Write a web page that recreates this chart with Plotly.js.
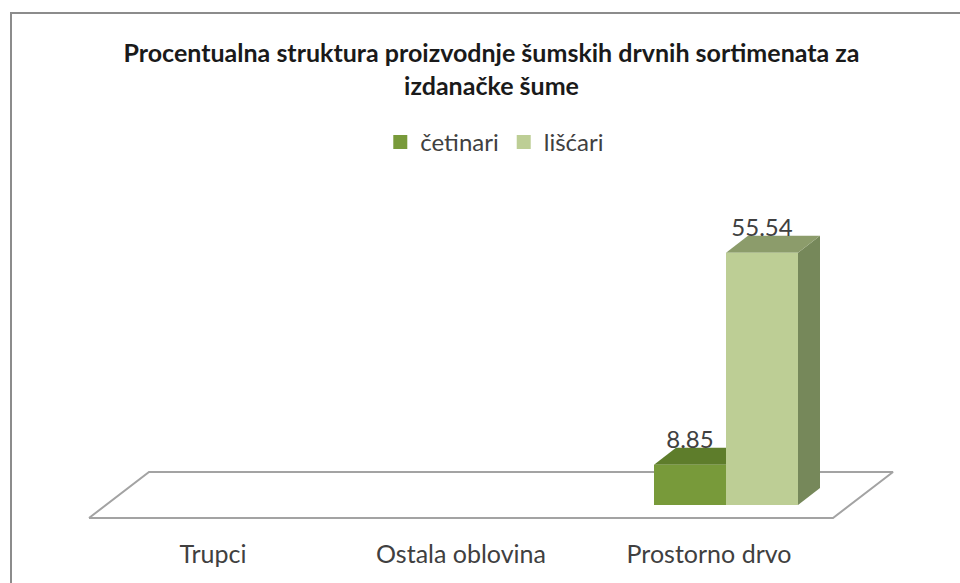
<!DOCTYPE html>
<html>
<head>
<meta charset="utf-8">
<script src="https://cdn.plot.ly/plotly-3.0.1.min.js"></script>
<style>
  html, body { margin: 0; padding: 0; background: #ffffff; }
  #chart { width: 960px; height: 583px; position: absolute; left: 0; top: 0; }
  #frame { position: absolute; left: 10px; top: 12px; width: 980px; height: 600px;
           border-left: 2px solid #8c8c8c; border-top: 2px solid #8c8c8c; pointer-events: none; }
</style>
</head>
<body>
<div id="chart"></div>
<div id="frame"></div>
<script>
// ---- data ----
const categories = ['Trupci', 'Ostala oblovina', 'Prostorno drvo'];
const seriesNames = ['četinari', 'lišćari'];
const cetinari = [0, 0, 8.85];
const liscari = [0, 0, 55.54];
const chartTitle = 'Procentualna struktura proizvodnje šumskih drvnih sortimenata za<br>izdanačke šume';

// ---- geometry (pixel scale of the oblique 3D look) ----
const pxPerCat = 248, cat0Px = 230;
const pxPerUnit = 4.54, basePx = 505;
const Lp = 40, Rp = 930, Tp = 190, Bp = 537;
const xRange = [(Lp - cat0Px) / pxPerCat, (Rp - cat0Px) / pxPerCat];
const yRange = [(basePx - Bp) / pxPerUnit, (basePx - Tp) / pxPerUnit];
const barW = 72 / pxPerCat;
const dX = 22 / pxPerCat, dY = 17 / pxPerUnit;          // bar depth
const fX = -17 / pxPerCat, fY = -13 / pxPerUnit;        // floor front edge offset
const bX = 43 / pxPerCat, bY = 33 / pxPerUnit;          // floor back edge offset
const labelLift = 5.5 / pxPerUnit;

const styles = [
  { front: '#789a3a', top: '#5e7d2b', side: '#56702a' },
  { front: '#bdce95', top: '#8c9c6b', side: '#76885a' }
];

const traces = [];
// floor
traces.push({
  type: 'scatter', mode: 'lines', hoverinfo: 'skip', showlegend: false,
  x: [-0.5 + fX, 2.5 + fX, 2.5 + bX, -0.5 + bX, -0.5 + fX],
  y: [fY, fY, bY, bY, fY],
  line: { color: '#a3a3a3', width: 2 }
});

const series = [cetinari, liscari];
const labelX = [], labelY = [], labelT = [];
categories.forEach((cat, i) => {
  series.forEach((vals, s) => {
    const v = vals[i];
    if (!v) return;
    const x0 = i + (s === 0 ? -barW : 0), x1 = x0 + barW;
    const st = styles[s];
    // side face
    traces.push({ type: 'scatter', mode: 'lines', fill: 'toself', hoverinfo: 'skip', showlegend: false,
      x: [x1, x1 + dX, x1 + dX, x1, x1], y: [0, dY, v + dY, v, 0],
      fillcolor: st.side, line: { width: 0, color: st.side } });
    // top face
    traces.push({ type: 'scatter', mode: 'lines', fill: 'toself', hoverinfo: 'skip', showlegend: false,
      x: [x0, x1, x1 + dX, x0 + dX, x0], y: [v, v, v + dY, v + dY, v],
      fillcolor: st.top, line: { width: 0, color: st.top } });
    // front face
    traces.push({ type: 'scatter', mode: 'lines', fill: 'toself', showlegend: false,
      name: seriesNames[s], hovertemplate: cat + ': ' + v + '<extra>' + seriesNames[s] + '</extra>',
      x: [x0, x1, x1, x0, x0], y: [0, 0, v, v, 0],
      fillcolor: st.front, line: { width: 0, color: st.front } });
    labelX.push((x0 + x1) / 2); labelY.push(v + dY + labelLift); labelT.push(v.toFixed(2));
  });
});

// data labels
traces.push({ type: 'scatter', mode: 'text', hoverinfo: 'skip', showlegend: false,
  x: labelX, y: labelY, text: labelT, textposition: 'middle center',
  textfont: { family: 'Lato, sans-serif', size: 24, color: '#404040' } });

// legend entries
seriesNames.forEach((n, s) => {
  traces.push({ type: 'scatter', mode: 'markers', name: n, x: [null], y: [null],
    marker: { symbol: 'square', size: 14, color: styles[s].front } });
});

const layout = {
  width: 960, height: 583,
  paper_bgcolor: '#ffffff', plot_bgcolor: 'rgba(0,0,0,0)',
  margin: { l: Lp, r: 960 - Rp, t: Tp, b: 583 - Bp, pad: 0 },
  title: { text: chartTitle, x: 0.512, xanchor: 'center', y: 0.893, yanchor: 'top',
    font: { family: 'Lato, sans-serif', size: 25, color: '#1a1a1a', weight: 'bold' } },
  showlegend: true,
  legend: { orientation: 'h', x: 0.511, xanchor: 'center', y: 1.137, yanchor: 'middle',
    font: { family: 'Lato, sans-serif', size: 24, color: '#404040' }, itemwidth: 30,
    bgcolor: 'rgba(0,0,0,0)' },
  xaxis: { range: xRange, tickvals: categories.map((c, i) => i + fX), ticktext: categories,
    ticks: '', showgrid: false, zeroline: false, showline: false, fixedrange: true,
    tickfont: { family: 'Lato, sans-serif', size: 25, color: '#404040' } },
  yaxis: { range: yRange, visible: false, fixedrange: true },
  hovermode: 'closest'
};

Plotly.newPlot('chart', traces, layout, { displayModeBar: false });
</script>
</body>
</html>
